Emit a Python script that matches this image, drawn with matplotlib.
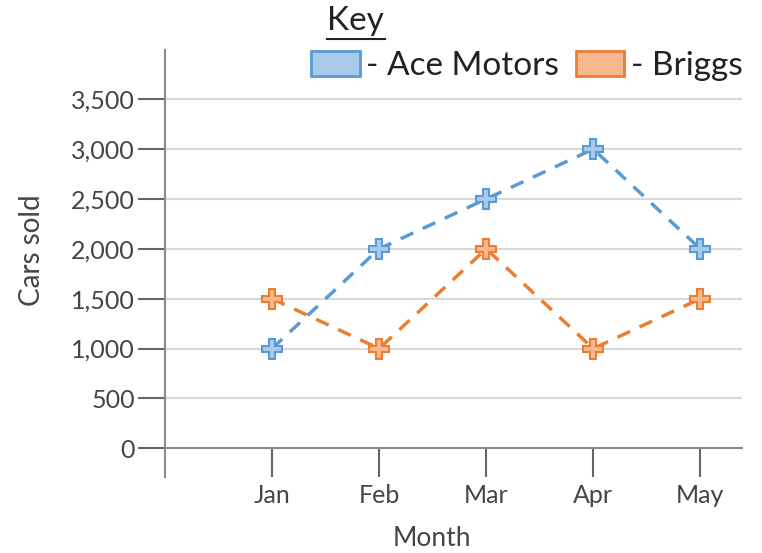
import matplotlib.pyplot as plt
from matplotlib.patches import Patch
from matplotlib.lines import Line2D

plt.rcParams['font.family'] = ['Lato', 'DejaVu Sans']

months = ['Jan', 'Feb', 'Mar', 'Apr', 'May']
ace = [1000, 2000, 2500, 3000, 2000]
briggs = [1500, 1000, 2000, 1000, 1500]
yticks = [0, 500, 1000, 1500, 2000, 2500, 3000, 3500]

blue, blue_fill = '#5b9bd5', '#a9cbeb'
orange, orange_fill = '#ed7d31', '#f6b88f'
txt = '#454545'
axc = '#8a8a8a'

fig = plt.figure(figsize=(7.62, 5.53), dpi=100)
ax = fig.add_axes([0.2165, 0.1374, 0.7573, 0.7722])

x = list(range(1, len(months) + 1))
for ys, c, fc in [(ace, blue, blue_fill), (briggs, orange, orange_fill)]:
    ax.plot(x, ys, linestyle=(0, (4, 3)), color=c, linewidth=2.5, zorder=3)
    ax.plot(x, ys, linestyle='none', marker='P', markersize=15,
            markerfacecolor=fc, markeredgecolor=c, markeredgewidth=1.5, zorder=4)

ax.set_xlim(0, 5.39)
ax.set_ylim(-288, 3994)
ax.set_yticks(yticks)
ax.set_yticklabels([f'{v:,}' for v in yticks])
ax.set_xticks(x)
ax.set_xticklabels(months)

for v in yticks[1:]:
    ax.axhline(v, color='#d9d9d9', linewidth=1.5, zorder=1)

for s in ['top', 'right']:
    ax.spines[s].set_visible(False)
ax.spines['bottom'].set_position(('data', 0))
ax.spines['bottom'].set_color(axc)
ax.spines['bottom'].set_linewidth(1.5)
ax.spines['left'].set_color(axc)
ax.spines['left'].set_linewidth(1.5)

ax.tick_params(axis='y', length=19.5, width=1.5, color='#666666', labelsize=18,
               labelcolor=txt, pad=2)
ax.tick_params(axis='x', length=21, width=1.5, color='#666666', labelsize=18,
               labelcolor=txt, pad=5)

fig.text(0.042, 0.548, 'Cars sold', rotation=90, ha='center', va='center',
         fontsize=20, color=txt)
fig.text(0.567, 0.027, 'Month', ha='center', va='center', fontsize=19, color=txt)

fig.text(0.466, 0.962, 'Key', ha='center', va='center', fontsize=24, color='#222222')
fig.add_artist(Line2D([327 / 762, 385 / 762], [1 - 39 / 553, 1 - 39 / 553],
                      color='#222222', linewidth=1.5))

handles = [Patch(facecolor=blue_fill, edgecolor=blue, linewidth=2),
           Patch(facecolor=orange_fill, edgecolor=orange, linewidth=2)]
fig.legend(handles, ['- Ace Motors', '- Briggs'], ncol=2, frameon=False,
           fontsize=24, labelcolor='#222222', handlelength=1.45, handleheight=0.8,
           handletextpad=0.2, columnspacing=0.5,
           loc='center', bbox_to_anchor=(527 / 762, 1 - 66 / 553),
           borderpad=0, borderaxespad=0)

fig.savefig('out.png', dpi=100)
